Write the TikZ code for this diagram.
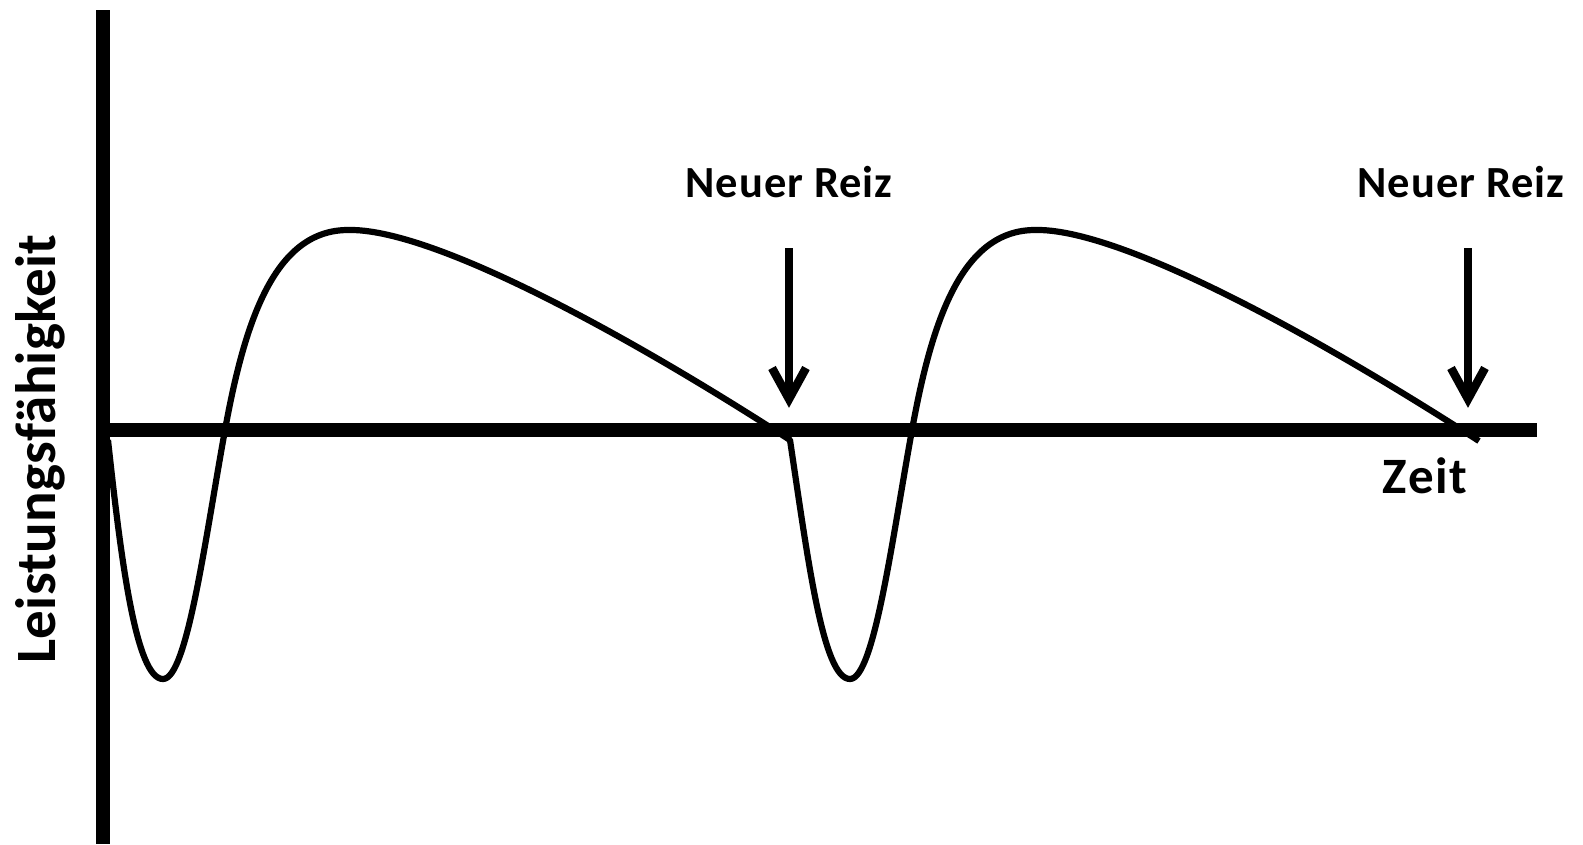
\documentclass[tikz,border=0pt]{standalone}
\usepackage{fontspec}
\setmainfont{Carlito}
\newfontfamily\reizfont[LetterSpace=2]{Carlito}
\newfontfamily\zeitfont[LetterSpace=3]{Carlito}
\newfontfamily\leistfont[LetterSpace=0.5]{Carlito}
\begin{document}
\begin{tikzpicture}[x=1pt,y=-1pt,
  axis/.style={line width=13.5pt,black},
  curve/.style={line width=6.2pt,black,line join=round},
  reiz/.style={line width=8.5pt,black,line join=miter},
  lbl/.style={font=\reizfont\bfseries\fontsize{44.5}{50}\selectfont,anchor=base,inner sep=0pt},
  bigl/.style={font=\zeitfont\bfseries\fontsize{51}{56}\selectfont,anchor=base,inner sep=0pt},
  ylbl/.style={font=\leistfont\bfseries\fontsize{57}{62}\selectfont,anchor=base,inner sep=0pt,rotate=90}]
\useasboundingbox (0,0) rectangle (1583,844);
% axes
\coordinate (ytop) at (103,10);
\coordinate (ybot) at (103,844);
\coordinate (xl) at (103,430);
\coordinate (xr) at (1537,430);
\draw[axis] (ytop) -- (ybot);
\draw[axis] (xl) -- (xr);
% curve
\draw[curve] (108,440) .. controls (121,560) and (136,679) .. (163,679)
  .. controls (187,679) and (205,540) .. (225,430)
  .. controls (245,320) and (275,230) .. (348,230)
  .. controls (430,228) and (620,330) .. (790,440)
  .. controls (808,560) and (823,679) .. (850,679)
  .. controls (874,679) and (892,540) .. (912,430)
  .. controls (932,320) and (962,230) .. (1035,230)
  .. controls (1117,228) and (1307,330) .. (1479,441);
% labels
\node[lbl] (r1) at (789,197) {Neuer Reiz};
\node[lbl] (r2) at (1461,197) {Neuer Reiz};
\node[bigl] (zeit) at (1425,493) {Zeit};
\node[ylbl] (leist) at (55,449) {Leistungsfähigkeit};
% arrows
\coordinate (a1s) at (789,248);
\coordinate (a1t) at (789,399);
\coordinate (a2s) at (1468,248);
\coordinate (a2t) at (1468,399);
\draw[reiz] (a1s) -- (a1t);
\draw[reiz] ([shift={(-17,-31)}]a1t) -- (a1t) -- ([shift={(17,-31)}]a1t);
\draw[reiz] (a2s) -- (a2t);
\draw[reiz] ([shift={(-17,-31)}]a2t) -- (a2t) -- ([shift={(17,-31)}]a2t);
\end{tikzpicture}
\end{document}
